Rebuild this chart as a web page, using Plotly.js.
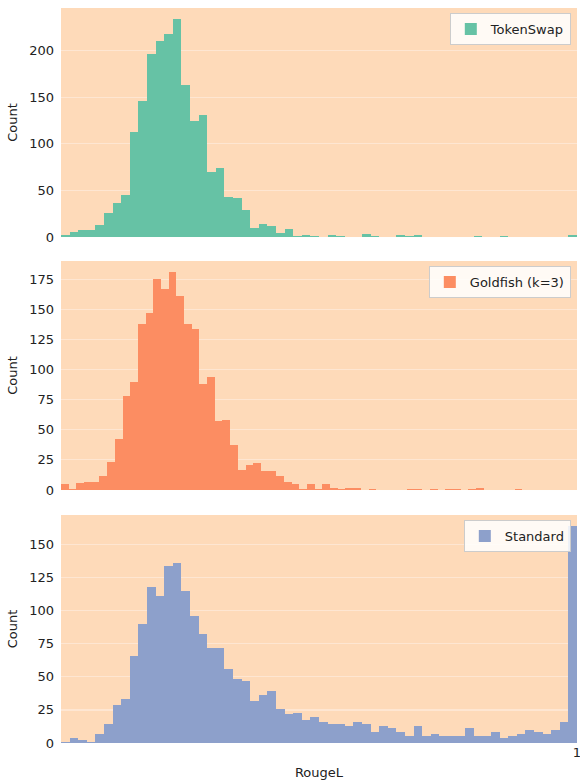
<!DOCTYPE html>
<html>
<head>
<meta charset="utf-8">
<script src="https://cdn.plot.ly/plotly-3.0.1.min.js"></script>
<style>html,body{margin:0;padding:0;background:#fff;}#chart{width:580px;height:780px;}</style>
</head>
<body>
<div id="chart"></div>
<script>
// Histogram counts per bin (60 bins each)
const seriesNames = ["TokenSwap", "Goldfish (k=3)", "Standard"];
const seriesColors = ["#66c2a5", "#fc8d62", "#8da0cb"];

const tokenSwapCounts = [2,5,8,8,13,26,37,45,113,146,196,210,218,234,163,125,131,70,74,43,42,29,10,14,12,4,9,1,2,1,0,2,1,0,0,3,1,0,0,2,1,2,0,0,0,0,0,0,1,0,0,1,0,0,0,0,0,0,0,2];
const goldfishCounts = [5,1,6,7,7,12,23,42,78,90,138,147,175,167,181,161,138,134,88,94,57,58,37,17,21,22,16,16,12,7,5,1,5,1,5,2,1,2,2,0,1,0,0,0,0,1,1,0,1,0,1,1,0,1,2,0,0,0,0,1];
const standardCounts = [1,4,2,1,7,14,29,33,66,90,118,111,134,136,115,96,82,72,72,56,48,47,32,36,39,26,22,23,17,20,16,14,14,13,16,14,8,13,11,8,5,13,5,7,5,5,5,11,5,5,8,4,5,7,10,8,7,10,16,164];

// Data range (min, max RougeL) of each series; bins span this range
const rangeLo = [0, 0, 0];
const rangeHi = [1, 0.894, 1];

const yTickStep = [50, 25, 25];
const xTickVals = [1];
const xTickText = ["1"];

const allCounts = [tokenSwapCounts, goldfishCounts, standardCounts];
const yAxisIds = ["y", "y2", "y3"];
const yAxisKeys = ["yaxis", "yaxis2", "yaxis3"];
const legendIds = ["legend", "legend2", "legend3"];

const traces = allCounts.map((counts, k) => {
  const n = counts.length;
  const w = (rangeHi[k] - rangeLo[k]) / n;
  const centers = counts.map((_, i) => rangeLo[k] + (i + 0.5) * w);
  return {
    type: "bar",
    x: centers,
    y: counts,
    width: centers.map(() => w),
    name: seriesNames[k],
    marker: {color: seriesColors[k], line: {width: 0}},
    xaxis: "x",
    yaxis: yAxisIds[k],
    legend: legendIds[k],
    showlegend: true,
    hoverinfo: "x+y"
  };
});

const font = {family: "DejaVu Sans, sans-serif", size: 13, color: "#222"};
const plotBg = "#FEDAB9";
const gridColor = "#FEE6D2";

// domains in paper coords
const domains = [[0.6884, 1.0], [0.3442, 0.6558], [0.0, 0.3102]];
const legendTops = [0.993, 0.649, 0.3034];

function yAxis(k) {
  const maxV = Math.max(...allCounts[k]);
  return {
    domain: domains[k],
    anchor: "x",
    range: [0, maxV * 1.05],
    dtick: yTickStep[k],
    tick0: 0,
    showgrid: true,
    gridcolor: gridColor,
    gridwidth: 1.2,
    zeroline: false,
    showline: false,
    ticks: "",
    ticklabelstandoff: 6,
    tickfont: font,
    automargin: false,
    title: {text: "Count", font: font, standoff: 8}
  };
}

const layout = {
  width: 580,
  height: 780,
  margin: {l: 61, r: 3, t: 8, b: 37, pad: 0},
  paper_bgcolor: "#ffffff",
  plot_bgcolor: plotBg,
  font: font,
  bargap: 0,
  showlegend: true,
  xaxis: {
    domain: [0, 1],
    anchor: "free",
    position: 0,
    side: "bottom",
    range: [0, 1],
    tickmode: "array",
    tickvals: xTickVals,
    ticktext: xTickText,
    showticklabels: true,
    ticklabeloverflow: "allow",
    showgrid: false,
    zeroline: false,
    showline: false,
    ticks: "",
    tickfont: font,
    automargin: false,
    title: {text: "RougeL", font: font}
  }
};
yAxisKeys.forEach((key, k) => { layout[key] = yAxis(k); });
legendIds.forEach((id, k) => {
  layout[id] = {
    x: 0.988, xanchor: "right",
    y: legendTops[k], yanchor: "top",
    bgcolor: "rgba(255,255,255,0.85)",
    bordercolor: "#cccccc",
    borderwidth: 1,
    font: font,
    itemwidth: 30,
    tracegroupgap: 0
  };
});

Plotly.newPlot("chart", traces, layout, {displayModeBar: false, staticPlot: true});
</script>
</body>
</html>
